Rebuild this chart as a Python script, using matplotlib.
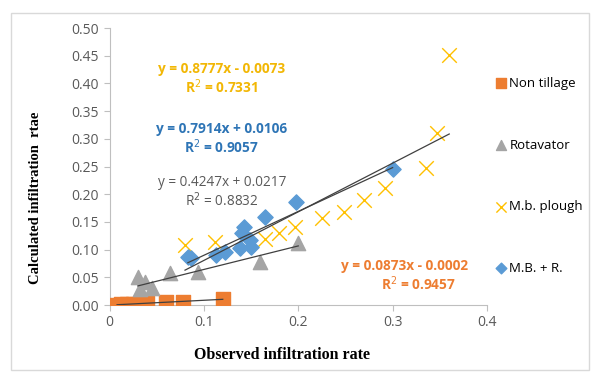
import numpy as np
import matplotlib.pyplot as plt
from matplotlib.patches import Rectangle

# --- data ---
nt_x = [0.008, 0.012, 0.018, 0.025, 0.04, 0.06, 0.078, 0.12]
nt_y = [0.000, 0.001, 0.001, 0.002, 0.003, 0.005, 0.006, 0.011]

rot_x = [0.030, 0.038, 0.032, 0.045, 0.064, 0.094, 0.159, 0.200]
rot_y = [0.050, 0.042, 0.028, 0.030, 0.058, 0.060, 0.078, 0.112]

mbp_x = [0.080, 0.112, 0.165, 0.180, 0.197, 0.225, 0.249, 0.270, 0.292, 0.335, 0.347, 0.360]
mbp_y = [0.108, 0.114, 0.120, 0.130, 0.140, 0.157, 0.168, 0.190, 0.212, 0.248, 0.311, 0.451]

mbr_x = [0.083, 0.086, 0.113, 0.122, 0.138, 0.140, 0.143, 0.149, 0.150, 0.165, 0.198, 0.300]
mbr_y = [0.087, 0.085, 0.090, 0.096, 0.103, 0.130, 0.141, 0.117, 0.105, 0.159, 0.186, 0.245]

# trendline coefficients (slope, intercept) and R2 as printed
fits = {
    'nt': (0.0873, -0.0002, 0.9457),
    'rot': (0.4247, 0.0217, 0.8832),
    'mbp': (0.8777, -0.0073, 0.7331),
    'mbr': (0.7914, 0.0106, 0.9057),
}

c_or = '#ED7D31'
c_gr = '#A5A5A5'
c_ye = '#FFC000'
c_bl = '#5B9BD5'

plt.rcParams['font.family'] = ['Open Sans', 'DejaVu Sans']

fig = plt.figure(figsize=(5.92, 3.73), dpi=100)
ax = fig.add_axes([0.185, 0.1823, 0.6376, 0.7426])

fig.patches.append(Rectangle((11/592, 3/373), 578/592, 357/373, transform=fig.transFigure,
                             fill=False, edgecolor='#D9D9D9', lw=1))

h_nt = ax.scatter(nt_x, nt_y, marker='s', s=110, color=c_or, zorder=3, label='Non tillage')
h_rot = ax.scatter(rot_x, rot_y, marker='^', s=105, color=c_gr, zorder=3, label='Rotavator')
h_mbp = ax.scatter(mbp_x, mbp_y, marker='x', s=110, color=c_ye, linewidths=1.0, zorder=3, label='M.b. plough')
h_mbr = ax.scatter(mbr_x, mbr_y, marker='D', s=60, color=c_bl, zorder=3, label='M.B. + R.')

for key, xs in [('nt', nt_x), ('rot', rot_x), ('mbp', mbp_x), ('mbr', mbr_x)]:
    a, b, r2 = fits[key]
    xx = np.array([min(xs), max(xs)])
    ax.plot(xx, a * xx + b, color='#404040', lw=0.9, zorder=4)

# equation labels
fs_eq = 9.8
ax.text(0.119, 0.426, 'y = 0.8777x - 0.0073', color='#F2B705', fontsize=fs_eq, fontweight='bold', ha='center', va='center')
ax.text(0.119, 0.394, 'R$^2$ = 0.7331', color='#F2B705', fontsize=fs_eq, fontweight='bold', ha='center', va='center')
ax.text(0.119, 0.318, 'y = 0.7914x + 0.0106', color='#2E75B6', fontsize=fs_eq, fontweight='bold', ha='center', va='center')
ax.text(0.119, 0.286, 'R$^2$ = 0.9057', color='#2E75B6', fontsize=fs_eq, fontweight='bold', ha='center', va='center')
ax.text(0.119, 0.221, 'y = 0.4247x + 0.0217', color='#595959', fontsize=fs_eq, ha='center', va='center')
ax.text(0.119, 0.189, 'R$^2$ = 0.8832', color='#595959', fontsize=fs_eq, ha='center', va='center')
ax.text(0.313, 0.070, 'y = 0.0873x - 0.0002', color=c_or, fontsize=fs_eq, fontweight='bold', ha='center', va='center')
ax.text(0.327, 0.038, 'R$^2$ = 0.9457', color=c_or, fontsize=fs_eq, fontweight='bold', ha='center', va='center')

ax.set_xlim(0, 0.4)
ax.set_ylim(0, 0.5)
ax.set_xticks([0, 0.1, 0.2, 0.3, 0.4])
ax.set_xticklabels(['0', '0.1', '0.2', '0.3', '0.4'])
ax.set_yticks(np.arange(0, 0.51, 0.05))
ax.set_yticklabels(['%.2f' % v for v in np.arange(0, 0.51, 0.05)])
ax.tick_params(labelsize=10, colors='#595959', length=4, color='#BFBFBF')
for s in ['top', 'right']:
    ax.spines[s].set_visible(False)
for s in ['left', 'bottom']:
    ax.spines[s].set_color('#BFBFBF')

ax.set_xlabel('Observed infiltration rate', family='Liberation Serif', fontweight='bold', fontsize=11.5)
ax.set_ylabel('Calculated infiltration  rtae', family='Liberation Serif', fontweight='bold', fontsize=10.5)
ax.xaxis.set_label_coords(0.457, -0.152)
ax.yaxis.set_label_coords(-0.179, 0.386)

fig.legend(handles=[h_nt, h_rot, h_mbp, h_mbr], loc='upper left', bbox_to_anchor=(0.818, 0.822),
           frameon=False, fontsize=9.5, labelspacing=3.68, handletextpad=0.1, markerscale=0.7,
           handlelength=1.0, borderpad=0.3)

fig.savefig('out.png', dpi=100)
